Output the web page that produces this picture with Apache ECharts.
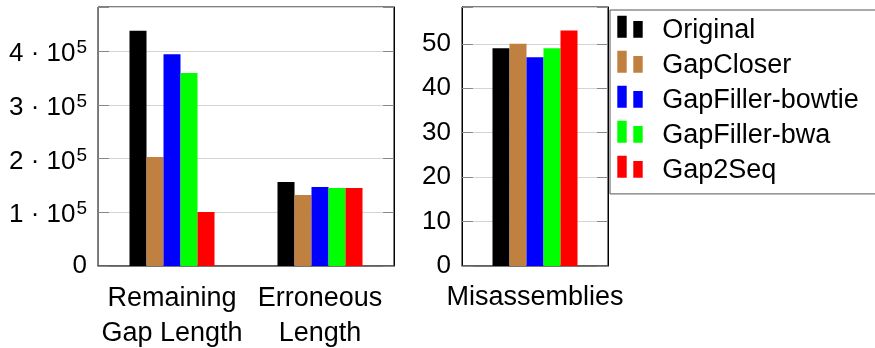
<!DOCTYPE html>
<html>
<head>
<meta charset="utf-8">
<script src="https://cdn.jsdelivr.net/npm/echarts@6/dist/echarts.min.js"></script>
<style>html,body{margin:0;padding:0;background:#fff}#c{width:875px;height:348px}</style>
</head>
<body>
<div id="c"></div>
<script>
// ---- data ----
const categoriesLeft = ['Remaining\nGap Length', 'Erroneous\nLength'];
const categoriesRight = ['Misassemblies'];
const seriesNames = ['Original', 'GapCloser', 'GapFiller-bowtie', 'GapFiller-bwa', 'Gap2Seq'];
const seriesColors = ['#000000', '#bf8040', '#0000ff', '#00ff00', '#ff0000'];
const lengthValues = [
  [438000, 156400],  // Original
  [203000, 132200],  // GapCloser
  [394000, 147000],  // GapFiller-bowtie
  [359000, 145300],  // GapFiller-bwa
  [100500, 145300]   // Gap2Seq
];
const misassemblyValues = [49, 50, 47, 49, 53];
const leftTicks = [0, 100000, 200000, 300000, 400000];
const rightTicks = [0, 10, 20, 30, 40, 50];

const FONT = "'Liberation Sans', Arial, Helvetica, sans-serif";
const chart = echarts.init(document.getElementById('c'), null, {renderer: 'canvas'});

function yAxisCommon(extra) {
  return Object.assign({
    type: 'value',
    min: 0,
    axisLine: {show: true, lineStyle: {color: '#000', width: 1}},
    axisTick: {show: true, inside: true, length: 11, lineStyle: {color: '#888', width: 1}},
    splitLine: {show: false},
    axisLabel: {show: false}
  }, extra);
}

const series = [];
seriesNames.forEach((name, i) => {
  series.push({
    name, type: 'bar', xAxisIndex: 0, yAxisIndex: 0,
    barWidth: 17, barGap: '0%',
    itemStyle: {color: seriesColors[i]},
    data: lengthValues[i]
  });
});
seriesNames.forEach((name, i) => {
  series.push({
    name, type: 'bar', xAxisIndex: 1, yAxisIndex: 2,
    barWidth: 17, barGap: '0%',
    itemStyle: {color: seriesColors[i]},
    data: [misassemblyValues[i]]
  });
});

const option = {
  animation: false,
  backgroundColor: '#fff',
  textStyle: {fontFamily: FONT},
  grid: [
    {left: 98, top: 7, width: 296, height: 259, show: true, borderColor: '#000', borderWidth: 1,
     backgroundColor: 'transparent', containLabel: false, outerBoundsMode: 'none'},
    {left: 462, top: 7, width: 146, height: 259, show: true, borderColor: '#000', borderWidth: 1,
     backgroundColor: 'transparent', containLabel: false, outerBoundsMode: 'none'}
  ],
  xAxis: [
    {type: 'category', gridIndex: 0, data: categoriesLeft,
     axisLine: {lineStyle: {color: '#555', width: 1.5}}, axisTick: {show: false},
     axisLabel: {interval: 0, margin: 15, fontSize: 27, lineHeight: 35, color: '#000', fontFamily: FONT}},
    {type: 'category', gridIndex: 1, data: categoriesRight,
     axisLine: {lineStyle: {color: '#555', width: 1.5}}, axisTick: {show: false},
     axisLabel: {interval: 0, margin: 14, fontSize: 27, lineHeight: 35, color: '#000', fontFamily: FONT}}
  ],
  yAxis: [
    yAxisCommon({gridIndex: 0, position: 'left', max: 482000, interval: 100000,
      axisLine: {show: true, lineStyle: {color: '#777', width: 1}},
      splitLine: {show: true, lineStyle: {color: '#d4d4d4', width: 1}},
      axisLabel: {show: true, margin: 11, color: '#000', fontFamily: FONT,
        formatter: v => {
          if (leftTicks.indexOf(v) < 0) return '';
          if (v === 0) return '{z|0}';
          return '{a|' + (v / 100000) + ' · 10}{s|5}';
        },
        rich: {
          z: {fontSize: 26, fontFamily: FONT, color: '#000'},
          a: {fontSize: 26, lineHeight: 26, padding: [6, 0, 0, 0], fontFamily: FONT, color: '#000'},
          s: {fontSize: 19, lineHeight: 19, padding: [0, 0, 6, 1], fontFamily: FONT, color: '#000'}
        }
      }}),
    yAxisCommon({gridIndex: 0, position: 'right', max: 482000, interval: 100000}),
    yAxisCommon({gridIndex: 1, position: 'left', max: 58.3, interval: 10,
      splitLine: {show: true, lineStyle: {color: '#d4d4d4', width: 1}},
      axisLabel: {show: true, margin: 11, fontSize: 26, color: '#000', fontFamily: FONT,
        formatter: v => rightTicks.indexOf(v) < 0 ? '' : String(v)}}),
    yAxisCommon({gridIndex: 1, position: 'right', max: 58.3, interval: 10})
  ],
  legend: {
    orient: 'vertical',
    left: 610, top: 10,
    padding: [5.7, 40, 9, 7.3],
    itemGap: 5.8,
    itemWidth: 40, itemHeight: 29.2,
    icon: 'path://M0,0L9.4,0L9.4,22L0,22ZM16,5.3L25.4,5.3L25.4,22L16,22ZM40,29.2L40,29.2',
    backgroundColor: '#fff',
    borderColor: '#555', borderWidth: 1, borderRadius: 0,
    selectedMode: false,
    textStyle: {fontSize: 27, lineHeight: 27, color: '#000', fontFamily: FONT},
    data: seriesNames
  },
  series
};
chart.setOption(option);
</script>
</body>
</html>
